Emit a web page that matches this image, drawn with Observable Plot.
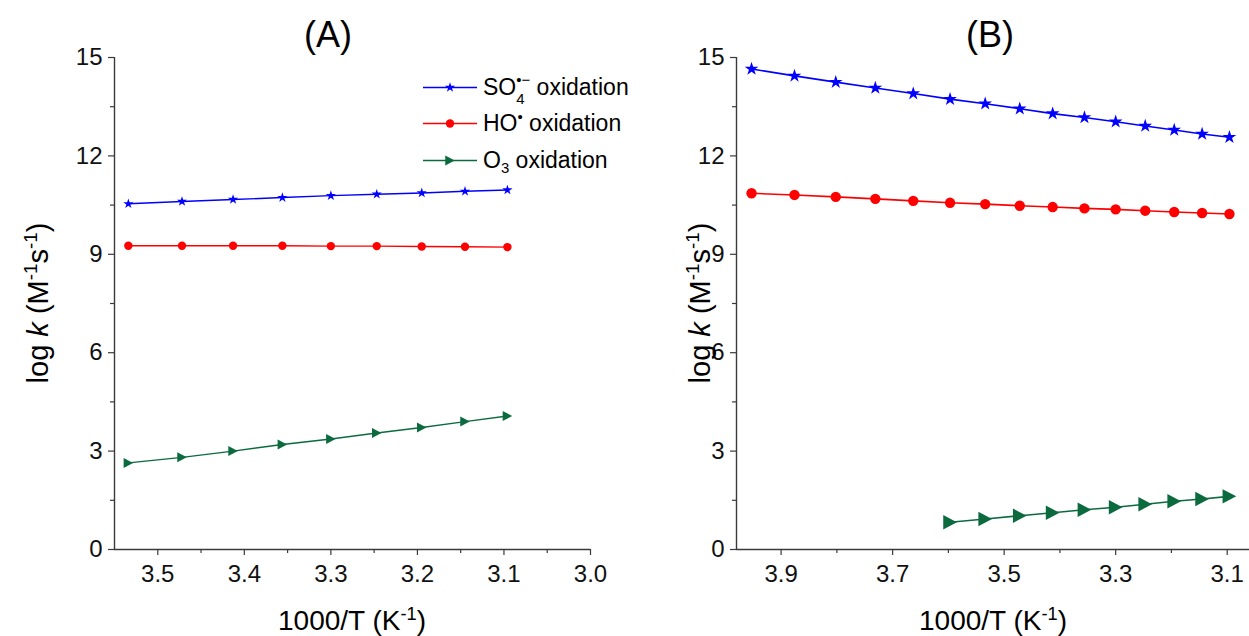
<!DOCTYPE html>
<html><head><meta charset="utf-8">
<script src="https://cdn.jsdelivr.net/npm/d3@7"></script>
<script src="https://cdn.jsdelivr.net/npm/@observablehq/plot@0.6"></script>
<style>
body{margin:0;background:#fff;font-family:"Liberation Sans",Arial,sans-serif;}
#fig{position:relative;width:1249px;height:636px;overflow:hidden;background:#fff;}
#fig svg.panel{position:absolute;top:0;overflow:visible;}
.t{position:absolute;white-space:nowrap;color:#000;line-height:1;}
.ylab{transform:translate(-50%,-50%) rotate(-90deg);}
.xlab{transform:translateX(-50%);}
.leg{position:absolute;display:flex;align-items:center;transform:translateY(-50%);font-size:23px;line-height:1;white-space:nowrap;}
.leg svg{margin-right:6px;}
sup,sub{font-size:0.65em;line-height:0;}
.stack{display:inline-block;position:relative;width:14px;height:0;}
.stack .a{position:absolute;left:0;top:-23px;font-size:15px;line-height:1;}
.stack .b{position:absolute;left:0;top:-4px;font-size:15px;line-height:1;}
</style></head><body>
<div id="fig"></div>
<script>
// ---- data ----
const xA = [3.534, 3.472, 3.413, 3.356, 3.300, 3.247, 3.195, 3.145, 3.096];
const so4A = [10.54, 10.61, 10.67, 10.73, 10.79, 10.83, 10.87, 10.92, 10.96];
const hoA  = [9.26, 9.26, 9.26, 9.26, 9.25, 9.25, 9.24, 9.23, 9.22];
const o3A  = [2.64, 2.81, 3.00, 3.20, 3.37, 3.55, 3.72, 3.90, 4.07];

const xB = [3.953, 3.876, 3.802, 3.731, 3.663, 3.597, 3.534, 3.472, 3.413, 3.356, 3.300, 3.247, 3.195, 3.145, 3.096];
const so4B = [14.65, 14.44, 14.25, 14.07, 13.90, 13.73, 13.59, 13.44, 13.29, 13.17, 13.04, 12.91, 12.79, 12.67, 12.57];
const hoB  = [10.86, 10.81, 10.75, 10.69, 10.63, 10.57, 10.53, 10.48, 10.44, 10.40, 10.37, 10.33, 10.29, 10.26, 10.23];
const xO3B = [3.597, 3.534, 3.472, 3.413, 3.356, 3.300, 3.247, 3.195, 3.145, 3.096];
const o3B  = [0.83, 0.93, 1.03, 1.12, 1.21, 1.29, 1.38, 1.47, 1.54, 1.62];

const yMajor = [0, 3, 6, 9, 12, 15];
const yMinor = [1.5, 4.5, 7.5, 10.5, 13.5];
const xMajorA = [3.5, 3.4, 3.3, 3.2, 3.1, 3.0];
const xMinorA = [3.45, 3.35, 3.25, 3.15, 3.05];
const xMajorB = [3.9, 3.7, 3.5, 3.3, 3.1];
const xMinorB = [3.8, 3.6, 3.4, 3.2];

const seriesNames = ["SO4 oxidation", "HO oxidation", "O3 oxidation"];
const colors = ["#0000ff", "#ff0000", "#0b6b3f"];

const triRight = {draw(ctx, size) {
  const r = Math.sqrt(size / Math.PI);
  ctx.moveTo(r * 0.95, 0); ctx.lineTo(-r * 0.95, -r); ctx.lineTo(-r * 0.95, r); ctx.closePath();
}};
const symbols = ["star", "circle", triRight];

const rows = (xs, ys) => xs.map((x, i) => ({x, y: ys[i]}));

function panel({width, marginLeft, marginRight, xDomain, xMajor, xMinor, data, sizes, sw}) {
  const axisColor = "#3a3a3a";
  const marks = [
    Plot.ruleY([0], {stroke: axisColor, strokeWidth: 1.4}),
    Plot.ruleX([xDomain[0]], {stroke: axisColor, strokeWidth: 1.4}),
    Plot.axisX({ticks: xMajor, tickSize: 6, tickPadding: 9, tickFormat: d3.format(".1f"), label: null, stroke: axisColor, strokeWidth: 1.2}),
    Plot.axisX({ticks: xMinor, tickSize: 4, tickFormat: () => "", label: null, stroke: axisColor, strokeWidth: 1.2}),
    Plot.axisY({ticks: yMajor, tickSize: 6, tickPadding: 6, tickFormat: d3.format("d"), label: null, stroke: axisColor, strokeWidth: 1.2}),
    Plot.axisY({ticks: yMinor, tickSize: 4, tickFormat: () => "", label: null, stroke: axisColor, strokeWidth: 1.2})
  ];
  data.forEach((d, i) => {
    marks.push(Plot.line(d, {x: "x", y: "y", stroke: colors[i], strokeWidth: sw}));
    marks.push(Plot.dot(d, {x: "x", y: "y", fill: colors[i], stroke: "none", symbol: symbols[i], r: sizes[i]}));
  });
  const svg = Plot.plot({
    width, height: 636, marginLeft, marginRight, marginTop: 57, marginBottom: 87,
    x: {domain: xDomain}, y: {domain: [0, 15]},
    style: {fontFamily: "'Liberation Sans', Arial, sans-serif", fontSize: "24px", color: "#111", background: "transparent", overflow: "visible"},
    marks
  });
  svg.classList.add("panel");
  return svg;
}

const fig = document.getElementById("fig");
const svgA = panel({width: 620, marginLeft: 114, marginRight: 30, xDomain: [3.55, 3.0], xMajor: xMajorA, xMinor: xMinorA,
  data: [rows(xA, so4A), rows(xA, hoA), rows(xA, o3A)], sizes: [3.2, 4.2, 5.0], sw: 1.4});
svgA.style.left = "0px";
fig.appendChild(svgA);
const svgB = panel({width: 629, marginLeft: 116, marginRight: 0, xDomain: [3.98, 3.06], xMajor: xMajorB, xMinor: xMinorB,
  data: [rows(xB, so4B), rows(xB, hoB), rows(xO3B, o3B)], sizes: [4.3, 5.2, 7.2], sw: 1.6});
svgB.style.left = "620px";
fig.appendChild(svgB);

function addText(html, cls, left, top, size) {
  const d = document.createElement("div");
  d.className = "t " + cls;
  d.style.left = left + "px"; d.style.top = top + "px"; d.style.fontSize = size + "px";
  d.innerHTML = html;
  fig.appendChild(d);
  return d;
}
// panel titles
addText("(A)", "xlab", 328, 17, 36);
addText("(B)", "xlab", 990, 17, 36);
// axis titles
const xTitle = "1000/T (K<sup>-1</sup>)";
const yTitle = "log <i>k</i> (M<sup>-1</sup>s<sup>-1</sup>)";
addText(xTitle, "xlab", 352, 607, 28);
addText(xTitle, "xlab", 993, 607, 28);
addText(yTitle, "ylab", 38, 303, 29);
addText(yTitle, "ylab", 700, 303, 29);

// legend
const legLabels = [
  'SO<span class="stack"><span class="a">\u2022\u2212</span><span class="b">4</span></span> oxidation',
  'HO<sup>\u2022</sup> oxidation',
  'O<sub>3</sub> oxidation'
];
const legY = [87, 123, 160];
const legR = [3.2, 4.2, 5.0];
legLabels.forEach((lab, i) => {
  const row = document.createElement("div");
  row.className = "leg";
  row.style.left = "423px"; row.style.top = legY[i] + "px";
  const ns = "http://www.w3.org/2000/svg";
  const s = document.createElementNS(ns, "svg");
  s.setAttribute("width", 54); s.setAttribute("height", 16);
  const ln = document.createElementNS(ns, "line");
  ln.setAttribute("x1", 0); ln.setAttribute("x2", 54); ln.setAttribute("y1", 8); ln.setAttribute("y2", 8);
  ln.setAttribute("stroke", colors[i]); ln.setAttribute("stroke-width", 1.4);
  s.appendChild(ln);
  const p = document.createElementNS(ns, "path");
  const symType = typeof symbols[i] === "string" ? (symbols[i] === "star" ? d3.symbolStar : d3.symbolCircle) : symbols[i];
  p.setAttribute("d", d3.symbol(symType, Math.PI * legR[i] * legR[i])());
  p.setAttribute("transform", "translate(27,8)");
  p.setAttribute("fill", colors[i]);
  s.appendChild(p);
  row.appendChild(s);
  const t = document.createElement("span");
  t.innerHTML = lab;
  row.appendChild(t);
  fig.appendChild(row);
});
</script>
</body></html>
